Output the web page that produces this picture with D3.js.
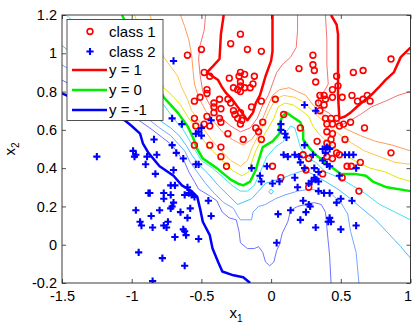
<!DOCTYPE html>
<html><head><meta charset="utf-8">
<script src="https://cdn.jsdelivr.net/npm/d3@7"></script>
<style>
body{margin:0;background:#fff}
svg{display:block}
text{font-family:"Liberation Sans",Arial,Helvetica,sans-serif;fill:#000}
</style>
</head><body>
<svg id="chart" width="412" height="325"></svg>
<script>
// ---------- data ----------
const xDomain = [-1.5, 1];
const yDomain = [-0.2, 1.2];
const xTicks = [-1.5, -1, -0.5, 0, 0.5, 1];
const xTickLabels = ["-1.5", "-1", "-0.5", "0", "0.5", "1"];
const yTicks = [-0.2, 0, 0.2, 0.4, 0.6, 0.8, 1, 1.2];
const yTickLabels = ["-0.2", "0", "0.2", "0.4", "0.6", "0.8", "1", "1.2"];
const legendLabels = ["class 1", "class 2", "y = 1", "y = 0", "y = -1"];

const class1 = [
[-0.50,1.02],[-0.29,1.05],[-0.60,0.99],[-0.22,1.10],[-0.17,1.02],[-0.07,1.01],
[-0.48,0.90],[-0.44,0.88],[-0.30,0.87],[-0.22,0.90],[-0.19,0.89],[-0.23,0.88],
[-0.12,0.88],[-0.13,0.84],[-0.22,0.85],[-0.27,0.82],[-0.24,0.81],[-0.22,0.83],
[-0.22,0.80],[-0.19,0.82],[-0.15,0.82],[-0.46,0.81],[-0.46,0.79],[-0.51,0.77],
[-0.55,0.75],[-0.41,0.74],[-0.37,0.76],[-0.31,0.76],[-0.29,0.74],[-0.41,0.72],
[-0.36,0.71],[-0.27,0.70],[-0.41,0.69],[-0.46,0.67],[-0.26,0.68],[-0.55,0.66],
[-0.37,0.66],[-0.36,0.64],[-0.48,0.63],[-0.54,0.62],[-0.44,0.62],[-0.31,0.58],
[-0.55,0.52],[-0.44,0.52],[-0.36,0.51],[-0.22,0.69],[-0.24,0.66],[-0.21,0.65],
[-0.22,0.63],[-0.06,0.64],[-0.11,0.61],[-0.09,0.59],[-0.20,0.55],[-0.07,0.55],
[-0.14,0.72],[-0.07,0.75],[0.03,0.76],[0.09,0.68],[-0.36,0.46],[-0.32,0.41],
[0.30,0.99],[0.30,0.94],[0.31,0.91],[0.32,0.85],[0.20,0.92],[0.59,0.90],[0.66,0.91],[0.47,0.88],[0.86,0.97],
[0.44,0.81],[0.48,0.83],[0.44,0.77],[0.51,0.77],[0.58,0.78],[0.62,0.75],[0.66,0.76],[0.69,0.78],[0.71,0.75],
[0.35,0.78],[0.38,0.78],[0.39,0.76],[0.34,0.74],[0.38,0.73],[0.35,0.70],
[0.21,0.61],[0.33,0.54],[0.39,0.66],[0.43,0.66],[0.47,0.66],[0.40,0.63],[0.44,0.63],[0.49,0.62],[0.52,0.63],[0.57,0.64],[0.67,0.61],
[0.40,0.59],[0.44,0.58],[0.43,0.55],[0.44,0.52],[0.40,0.53],[0.53,0.55],
[0.47,0.48],[0.49,0.47],[0.86,0.48],[0.44,0.45],[0.40,0.46],[0.545,0.41],[0.575,0.41],[0.64,0.43],[0.51,0.35],[0.63,0.28],
[0.01,0.41],[0.07,0.35],[0.23,0.47],[0.27,0.45],[0.25,0.39],[0.27,0.30],[0.37,0.37]
];

const class2 = [
[-0.70,0.96],[-0.71,0.66],[-0.64,0.63],[-0.43,0.65],[-0.50,0.61],[-0.52,0.59],[-0.54,0.58],[-0.50,0.57],
[-0.84,0.55],[-0.71,0.52],[-1.25,0.46],[-0.99,0.49],[-0.98,0.46],[-0.97,0.47],[-0.89,0.46],[-0.90,0.42],[-0.82,0.47],
[-0.88,0.27],[-0.87,0.27],[-0.97,0.18],[-0.86,0.15],[-0.94,0.12],[-0.93,0.10],[-0.95,-0.04],[-0.78,-0.07],[-0.62,-0.11],[-0.85,-0.19],
[-0.68,0.48],[-0.63,0.45],[-0.54,0.42],[-0.52,0.42],[-0.83,0.37],[-0.70,0.39],[-0.72,0.31],[-0.69,0.31],[-0.60,0.30],
[-0.77,0.27],[-0.72,0.26],[-0.77,0.24],[-0.62,0.26],[-0.59,0.27],[-0.57,0.26],[-0.55,0.25],[-0.45,0.23],
[-0.70,0.22],[-0.71,0.20],[-0.72,0.19],[-0.58,0.19],[-0.80,0.18],[-0.65,0.17],[-0.60,0.14],[-0.43,0.15],
[-0.74,0.12],[-0.77,0.10],[-0.75,0.09],[-0.85,0.09],[-0.63,0.08],[-0.62,0.07],[-0.61,0.05],[-0.69,0.04],[-0.52,0.03],
[-0.14,0.40],[-0.03,0.41],[-0.08,0.36],[-0.07,0.33],[0.01,0.32],[0.06,0.33],[0.17,0.35],[0.19,0.30],
[0.09,0.47],[0.12,0.46],[0.17,0.47],[0.20,0.46],[0.21,0.43],[0.24,0.40],[0.31,0.40],[0.34,0.38],[0.31,0.35],[0.32,0.34],[0.29,0.33],[0.34,0.33],[0.27,0.32],
[0.34,0.28],[0.38,0.27],[0.42,0.27],[0.23,0.23],[0.27,0.21],[0.28,0.20],[0.25,0.17],[0.14,0.18],[0.05,0.16],[0.21,0.13],[0.32,0.09],[0.04,0.01],
[0.47,0.22],[0.50,0.24],[0.58,0.23],[0.42,0.14],[0.43,0.12],[0.41,0.12],[0.50,0.08],[0.61,0.10],
[0.40,0.42],[0.42,0.41],[0.49,0.36],[0.61,0.40],[0.53,0.47],[0.56,0.47],[0.59,0.47],
[0.40,0.51],[0.42,0.50],[0.39,0.48],[0.37,0.50],[0.37,0.44],[0.30,0.47],[0.24,0.52],
[0.07,0.63],[0.07,0.60],[0.10,0.58],[0.11,0.56],[0.24,0.73],[0.32,0.70]
];

// contour lines of the decision value
const levelPlus1A = [[-0.34,1.2],[-0.36,1.10],[-0.37,0.97],[-0.42,0.93],[-0.46,0.90],[-0.42,0.88],[-0.38,0.86],[-0.35,0.82],[-0.32,0.79],[-0.28,0.76],[-0.24,0.72],[-0.20,0.68],[-0.17,0.65],[-0.15,0.67],[-0.13,0.69],[-0.11,0.74],[-0.08,0.78],[-0.06,0.83],[-0.04,0.88],[0.0,0.96],[0.01,1.01],[0.01,1.2]];
const levelPlus1B = [[0.43,1.2],[0.47,1.15],[0.48,1.10],[0.48,0.97],[0.48,0.78],[0.49,0.66],[0.53,0.67],[0.57,0.69],[0.63,0.73],[0.68,0.76],[0.73,0.79],[0.77,0.82],[0.82,0.86],[0.88,0.90],[0.93,0.98],[1.0,1.03]];
const levelZero = [[-1.07,1.2],[-0.77,0.77],[-0.67,0.69],[-0.60,0.62],[-0.56,0.56],[-0.53,0.50],[-0.49,0.45],[-0.39,0.40],[-0.29,0.34],[-0.24,0.32],[-0.20,0.31],[-0.15,0.33],[-0.11,0.39],[-0.09,0.44],[-0.06,0.51],[0.01,0.54],[0.06,0.58],[0.06,0.63],[0.08,0.67],[0.11,0.69],[0.15,0.67],[0.21,0.64],[0.23,0.60],[0.23,0.55],[0.27,0.51],[0.32,0.47],[0.39,0.43],[0.50,0.37],[0.60,0.37],[0.68,0.36],[0.73,0.33],[0.83,0.30],[1.0,0.28]];
const levelMinus1 = [[-1.5,0.79],[-1.05,0.65],[-1.0,0.62],[-0.94,0.58],[-0.92,0.53],[-0.88,0.48],[-0.80,0.41],[-0.70,0.36],[-0.64,0.31],[-0.57,0.28],[-0.53,0.25],[-0.51,0.19],[-0.49,0.12],[-0.44,0.05],[-0.42,-0.02],[-0.38,-0.09],[-0.35,-0.14],[-0.27,-0.16],[-0.20,-0.17],[-0.15,-0.2]];
const levelM08 = [[-1.5,0.86],[-0.95,0.65],[-0.87,0.61],[-0.78,0.56],[-0.71,0.52],[-0.67,0.48],[-0.62,0.43],[-0.59,0.38],[-0.55,0.33],[-0.52,0.29],[-0.45,0.26],[-0.39,0.23],[-0.35,0.17],[-0.30,0.14],[-0.25,0.13],[-0.23,0.07],[-0.22,0.01],[-0.17,-0.02],[-0.12,-0.02],[-0.09,-0.01],[-0.06,-0.04],[-0.04,-0.09],[-0.01,-0.11],[0.02,-0.09],[0.04,-0.03],[0.06,0.0],[0.08,0.06],[0.12,0.12],[0.14,0.18],[0.19,0.20],[0.25,0.21],[0.31,0.22],[0.36,0.21],[0.39,0.17],[0.40,0.09],[0.42,-0.06],[0.43,-0.2]];
const levelM06 = [[-1.5,0.94],[-0.87,0.65],[-0.80,0.61],[-0.72,0.57],[-0.67,0.53],[-0.62,0.49],[-0.58,0.43],[-0.53,0.38],[-0.47,0.32],[-0.41,0.27],[-0.34,0.22],[-0.27,0.19],[-0.24,0.15],[-0.22,0.13],[-0.14,0.13],[-0.13,0.17],[-0.09,0.20],[-0.04,0.21],[0.03,0.24],[0.10,0.26],[0.19,0.28],[0.28,0.29],[0.37,0.28],[0.44,0.26],[0.50,0.22],[0.55,0.16],[0.57,0.07],[0.61,-0.04],[0.63,-0.2]];
const levelM04 = [[-1.5,1.04],[-0.80,0.65],[-0.72,0.61],[-0.66,0.57],[-0.61,0.52],[-0.57,0.47],[-0.52,0.42],[-0.45,0.37],[-0.38,0.31],[-0.31,0.26],[-0.24,0.21],[-0.14,0.24],[-0.09,0.28],[-0.04,0.32],[0.0,0.33],[0.09,0.35],[0.16,0.37],[0.24,0.39],[0.32,0.36],[0.39,0.33],[0.48,0.29],[0.57,0.24],[0.65,0.19],[0.75,0.13],[0.84,0.06],[0.93,-0.01],[1.0,-0.07]];
const levelM04Island = [[-0.018,0.277],[0,0.29],[0.018,0.277],[0,0.264],[-0.018,0.277]];
const levelM02 = [[-1.47,1.2],[-0.77,0.73],[-0.70,0.66],[-0.63,0.60],[-0.59,0.55],[-0.55,0.50],[-0.50,0.44],[-0.42,0.40],[-0.34,0.35],[-0.28,0.31],[-0.22,0.28],[-0.17,0.28],[-0.12,0.31],[-0.09,0.36],[-0.06,0.41],[-0.03,0.46],[0.03,0.51],[0.09,0.54],[0.11,0.59],[0.14,0.62],[0.17,0.61],[0.19,0.56],[0.21,0.51],[0.25,0.46],[0.32,0.43],[0.39,0.38],[0.49,0.35],[0.58,0.31],[0.67,0.27],[0.78,0.21],[0.89,0.17],[1.0,0.13]];
const levelP02 = [[-0.98,1.2],[-0.77,0.82],[-0.71,0.78],[-0.65,0.73],[-0.60,0.67],[-0.56,0.63],[-0.51,0.57],[-0.47,0.53],[-0.42,0.49],[-0.35,0.44],[-0.28,0.39],[-0.21,0.36],[-0.16,0.38],[-0.14,0.43],[-0.11,0.49],[-0.07,0.55],[-0.02,0.61],[0.02,0.66],[0.05,0.72],[0.10,0.74],[0.16,0.73],[0.22,0.70],[0.27,0.67],[0.30,0.62],[0.34,0.58],[0.40,0.54],[0.47,0.50],[0.55,0.46],[0.62,0.43],[0.71,0.40],[0.82,0.38],[0.91,0.35],[1.0,0.33]];
const levelP04 = [[-0.87,1.2],[-0.77,0.98],[-0.72,0.93],[-0.67,0.88],[-0.64,0.82],[-0.60,0.76],[-0.57,0.70],[-0.52,0.65],[-0.48,0.60],[-0.43,0.55],[-0.37,0.50],[-0.29,0.44],[-0.22,0.41],[-0.17,0.44],[-0.14,0.50],[-0.10,0.56],[-0.06,0.62],[-0.02,0.69],[0.03,0.76],[0.09,0.78],[0.17,0.77],[0.22,0.75],[0.27,0.72],[0.32,0.68],[0.37,0.65],[0.43,0.61],[0.50,0.57],[0.58,0.53],[0.67,0.49],[0.78,0.46],[0.89,0.43],[1.0,0.42]];
const levelP06 = [[-0.65,1.2],[-0.62,1.14],[-0.59,1.07],[-0.57,0.99],[-0.56,0.91],[-0.55,0.84],[-0.52,0.77],[-0.47,0.70],[-0.42,0.65],[-0.35,0.59],[-0.28,0.55],[-0.20,0.52],[-0.14,0.55],[-0.09,0.60],[-0.06,0.66],[-0.02,0.73],[0.01,0.78],[0.06,0.81],[0.13,0.82],[0.19,0.80],[0.25,0.78],[0.29,0.74],[0.34,0.70],[0.39,0.67],[0.47,0.63],[0.55,0.60],[0.64,0.57],[0.75,0.54],[0.87,0.52],[1.0,0.49]];
const levelP08A = [[-0.47,1.2],[-0.48,1.12],[-0.51,1.04],[-0.52,0.97],[-0.51,0.89],[-0.49,0.80],[-0.44,0.73],[-0.37,0.67],[-0.29,0.62],[-0.22,0.59],[-0.15,0.61],[-0.10,0.66],[-0.06,0.73],[-0.02,0.78],[0.01,0.84],[0.04,0.90],[0.08,0.94],[0.14,0.98],[0.18,1.03],[0.19,1.12],[0.19,1.2]];
const levelP08B = [[0.39,1.2],[0.40,1.07],[0.40,0.94],[0.41,0.84],[0.38,0.80],[0.34,0.78],[0.34,0.74],[0.36,0.71],[0.41,0.69],[0.47,0.65],[0.52,0.63],[0.57,0.65],[0.64,0.68],[0.72,0.72],[0.82,0.75],[0.91,0.78],[1.0,0.80]];

// ---------- drawing ----------
const plot = {left: 62, right: 410.5, top: 15, bottom: 283};
const x = d3.scaleLinear().domain(xDomain).range([plot.left, plot.right]);
const y = d3.scaleLinear().domain(yDomain).range([plot.bottom, plot.top]);
const svg = d3.select("#chart");

svg.append("defs").append("clipPath").attr("id", "clip")
  .append("rect").attr("x", plot.left).attr("y", plot.top)
  .attr("width", plot.right - plot.left).attr("height", plot.bottom - plot.top);

const line = d3.line().x(d => x(d[0])).y(d => y(d[1]));

const thin = [
  {paths: [levelM08], color: "#6f73ff"},
  {paths: [levelM06], color: "#74a6ff"},
  {paths: [levelM04, levelM04Island], color: "#45c0ff"},
  {paths: [levelM02], color: "#3fe3ef"},
  {paths: [levelP02], color: "#e2e600"},
  {paths: [levelP04], color: "#ffc64a"},
  {paths: [levelP06], color: "#ff9c5c"},
  {paths: [levelP08A, levelP08B], color: "#f77272"}
];
const thick = [
  {paths: [levelMinus1], color: "#0000ff"},
  {paths: [levelZero], color: "#00ee00"},
  {paths: [levelPlus1A, levelPlus1B], color: "#ff0000"}
];

const gC = svg.append("g").attr("clip-path", "url(#clip)");
thin.forEach(t => t.paths.forEach(p => gC.append("path").attr("d", line(p))
  .attr("fill", "none").attr("stroke", t.color).attr("stroke-width", 1)));
thick.forEach(t => t.paths.forEach(p => gC.append("path").attr("d", line(p))
  .attr("fill", "none").attr("stroke", t.color).attr("stroke-width", 2.5)
  .attr("stroke-linejoin", "round")));

// points
const gP = svg.append("g").attr("clip-path", "url(#clip)");
gP.selectAll("circle.c1").data(class1).enter().append("circle")
  .attr("cx", d => x(d[0])).attr("cy", d => y(d[1])).attr("r", 2.9)
  .attr("fill", "none").attr("stroke", "#ff0000").attr("stroke-width", 1.6);
const plus = "M-3.6,0H3.6M0,-3.6V3.6";
gP.selectAll("path.c2").data(class2).enter().append("path")
  .attr("d", plus).attr("transform", d => `translate(${x(d[0])},${y(d[1])})`)
  .attr("fill", "none").attr("stroke", "#0000ff").attr("stroke-width", 2.1);

// axes
const fs = "14.5px";
const axB = svg.append("g").attr("transform", `translate(0,${plot.bottom})`)
  .call(d3.axisBottom(x).tickValues(xTicks).tickFormat((d, i) => xTickLabels[i])
    .tickSizeInner(-4).tickSizeOuter(0).tickPadding(8));
const axT = svg.append("g").attr("transform", `translate(0,${plot.top})`)
  .call(d3.axisTop(x).tickValues(xTicks).tickFormat("").tickSizeInner(-4).tickSizeOuter(0));
const axL = svg.append("g").attr("transform", `translate(${plot.left},0)`)
  .call(d3.axisLeft(y).tickValues(yTicks).tickFormat((d, i) => yTickLabels[i])
    .tickSizeInner(-4).tickSizeOuter(0).tickPadding(5));
const axR = svg.append("g").attr("transform", `translate(${plot.right},0)`)
  .call(d3.axisRight(y).tickValues(yTicks).tickFormat("").tickSizeInner(-4).tickSizeOuter(0));
[axB, axT, axL, axR].forEach(g => {
  g.select(".domain").remove();
  g.selectAll("line").attr("stroke", "#262626").attr("stroke-width", 0.8);
  g.selectAll("text").style("font-size", fs).attr("fill", "#000");
});
// keep the last x label inside the picture
axB.selectAll(".tick text").filter(d => d === xDomain[1]).attr("dx", -3);
svg.append("rect").attr("x", plot.left).attr("y", plot.top)
  .attr("width", plot.right - plot.left).attr("height", plot.bottom - plot.top)
  .attr("fill", "none").attr("stroke", "#262626").attr("stroke-width", 0.9);

// axis labels
const xl = svg.append("text").attr("x", 236).attr("y", 318).attr("text-anchor", "middle")
  .style("font-size", "15px");
xl.append("tspan").text("x");
xl.append("tspan").attr("dy", 4).style("font-size", "10px").text("1");
const yl = svg.append("text").attr("transform", "translate(15,149) rotate(-90)")
  .attr("text-anchor", "middle").style("font-size", "15px");
yl.append("tspan").text("x");
yl.append("tspan").attr("dy", 4).style("font-size", "10px").text("2");

// legend
const lg = svg.append("g");
lg.append("rect").attr("x", 67).attr("y", 19.5).attr("width", 96).attr("height", 101)
  .attr("fill", "#fff").attr("stroke", "#262626").attr("stroke-width", 0.8);
const rows = [31.5, 51.5, 70, 90, 110];
lg.append("circle").attr("cx", 90).attr("cy", rows[0]).attr("r", 2.9)
  .attr("fill", "none").attr("stroke", "#ff0000").attr("stroke-width", 1.6);
lg.append("path").attr("d", plus).attr("transform", `translate(90,${rows[1]})`)
  .attr("stroke", "#0000ff").attr("stroke-width", 2.1);
const lgColors = ["#ff0000", "#00ee00", "#0000ff"];
[2, 3, 4].forEach((r, i) => lg.append("line").attr("x1", 72).attr("x2", 107)
  .attr("y1", rows[r]).attr("y2", rows[r]).attr("stroke", lgColors[i]).attr("stroke-width", 2.5));
legendLabels.forEach((t, i) => lg.append("text").attr("x", 109).attr("y", rows[i] + 5)
  .style("font-size", "15px").text(t));
</script>
</body></html>
